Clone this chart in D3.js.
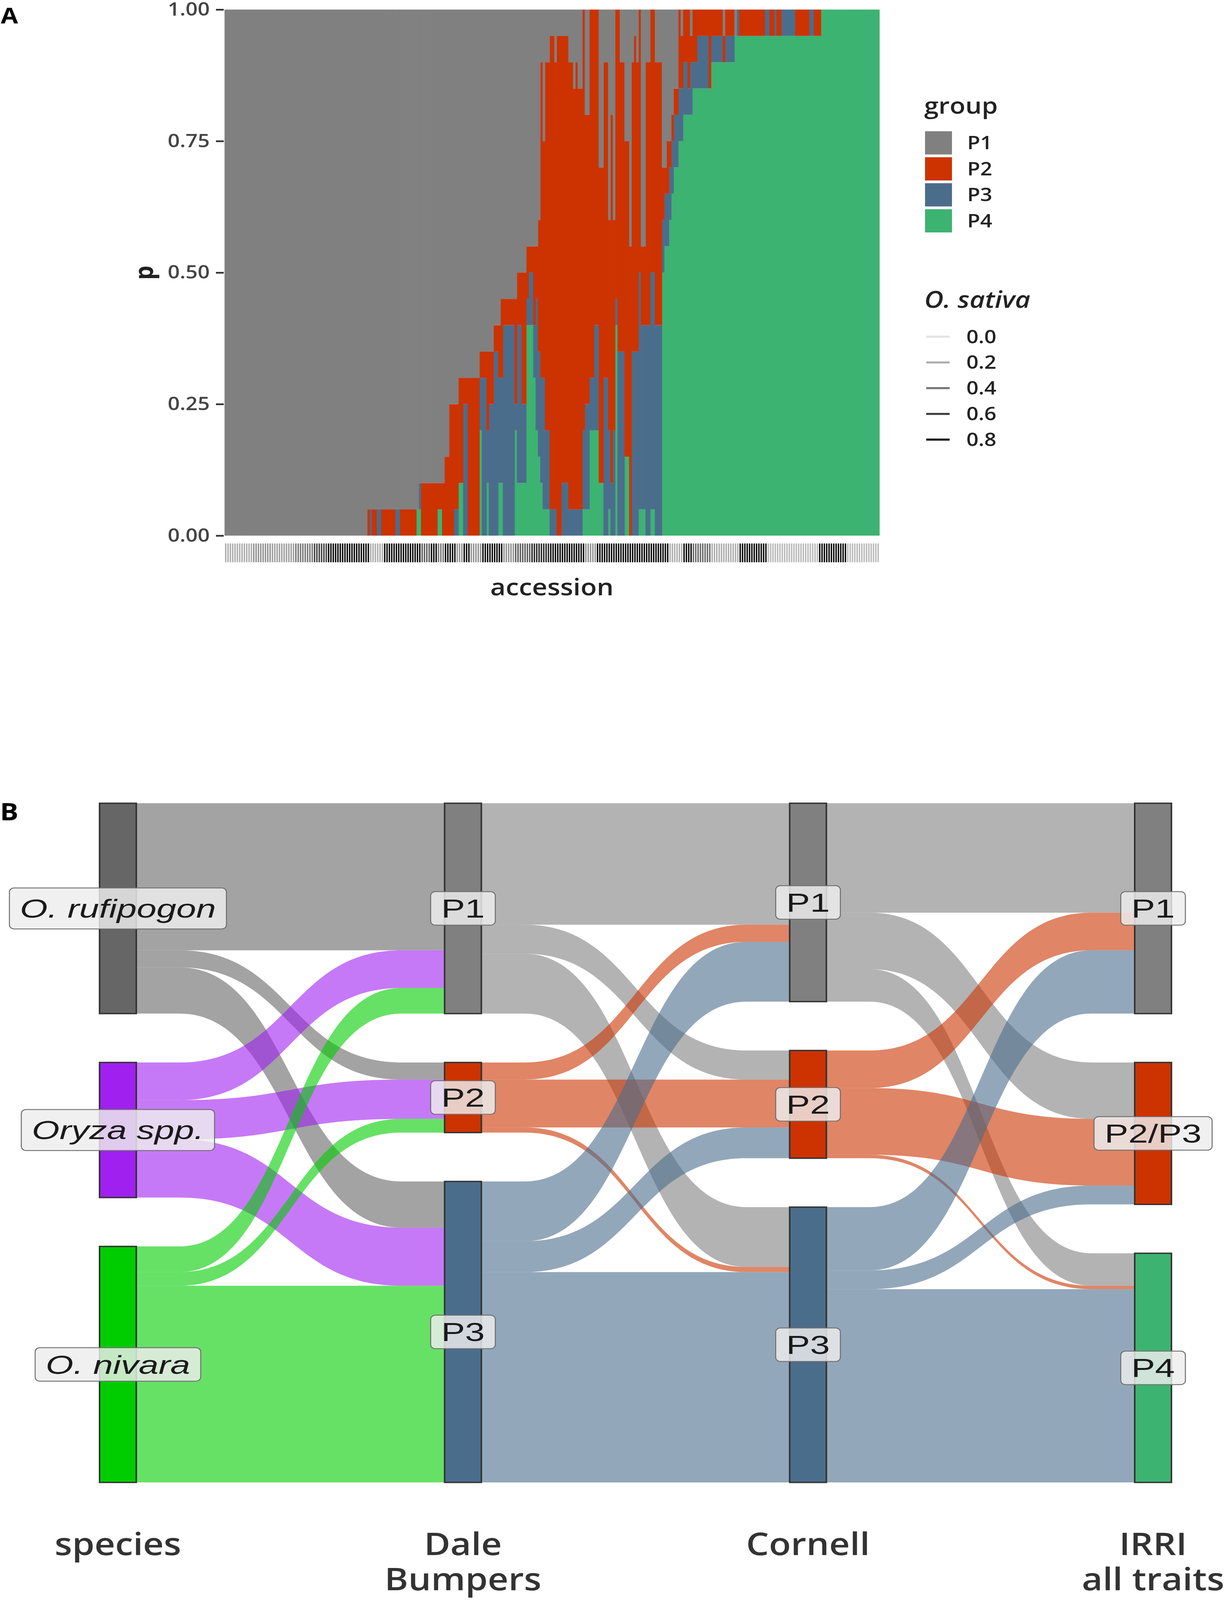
<!DOCTYPE html>
<html>
<head>
<meta charset="utf-8">
<script src="https://cdn.jsdelivr.net/npm/d3@7"></script>
<style>
  html, body { margin: 0; padding: 0; background: #fff; overflow: hidden; }
  svg { display: block; }
</style>
</head>
<body>
<div id="chart"></div>
<script>
// ---------- panel A data ----------
var groups = ['P1', 'P2', 'P3', 'P4'];
var group_colors = ['#808080', '#cc3300', '#4b6d8c', '#3cb371'];
var y_ticks = [0, 0.25, 0.5, 0.75, 1];

// accessions, as runs: [count, P1, P2, P3, P4] in twentieths
var accession_runs = [
  [61, 20, 0, 0, 0],
  [1, 19, 1, 0, 0], [1, 19, 0, 1, 0], [2, 19, 1, 0, 0], [2, 19, 0, 1, 0], [6, 19, 1, 0, 0],
  [2, 19, 0, 1, 0], [7, 19, 1, 0, 0], [1, 19, 0, 0, 1],
  [1, 18, 0, 1, 1], [7, 18, 2, 0, 0], [2, 18, 1, 0, 1], [1, 18, 2, 0, 0],
  [2, 17, 3, 0, 0],
  [2, 15, 5, 0, 0], [2, 15, 4, 1, 0],
  [2, 14, 4, 0, 2], [2, 14, 1, 5, 0], [5, 14, 6, 0, 0],
  [1, 13, 1, 2, 4], [2, 13, 1, 6, 0], [1, 13, 3, 2, 2], [2, 13, 2, 5, 0],
  [2, 12, 1, 7, 0], [1, 12, 2, 4, 2],
  [1, 11, 3, 4, 2], [5, 11, 1, 8, 0], [1, 11, 4, 1, 4],
  [2, 10, 2, 6, 2], [2, 10, 5, 3, 2],
  [1, 9, 2, 1, 8], [2, 9, 1, 2, 8], [1, 9, 3, 2, 6], [1, 9, 2, 5, 4],
  [1, 8, 5, 4, 3],
  [1, 2, 12, 4, 2], [1, 5, 9, 5, 1], [2, 2, 14, 3, 1],
  [2, 1, 18, 1, 0], [1, 2, 17, 1, 0], [2, 1, 19, 0, 0], [3, 1, 17, 2, 0],
  [2, 2, 17, 1, 0], [1, 3, 16, 1, 0], [1, 2, 17, 1, 0], [2, 3, 16, 1, 0],
  [1, 0, 16, 3, 1], [2, 4, 11, 4, 1], [2, 0, 14, 2, 4], [2, 0, 12, 4, 4],
  [2, 6, 12, 0, 2], [2, 2, 12, 6, 0], [1, 8, 8, 3, 1], [1, 4, 14, 2, 0], [1, 8, 8, 4, 0],
  [1, 0, 11, 1, 8], [1, 0, 13, 7, 0], [2, 2, 11, 7, 0], [2, 5, 12, 0, 3],
  [1, 9, 11, 0, 0], [1, 2, 11, 7, 0], [1, 1, 12, 7, 0], [1, 2, 11, 7, 0], [1, 0, 10, 9, 1],
  [2, 9, 3, 7, 1], [2, 2, 10, 8, 0], [2, 0, 10, 9, 1], [3, 2, 10, 8, 0],
  [1, 6, 2, 2, 10], [1, 6, 1, 2, 11], [1, 5, 2, 2, 11], [1, 5, 1, 2, 12], [1, 4, 1, 2, 13],
  [2, 3, 1, 2, 14], [1, 0, 3, 2, 15], [1, 1, 2, 2, 15], [2, 0, 2, 2, 16], [1, 0, 3, 1, 16],
  [1, 1, 1, 2, 16],
  [2, 0, 2, 1, 17], [2, 0, 1, 2, 17], [3, 0, 1, 2, 17], [1, 0, 3, 0, 17],
  [5, 0, 1, 1, 18], [1, 1, 1, 0, 18], [4, 0, 1, 1, 18],
  [1, 1, 0, 0, 19], [1, 0, 0, 1, 19], [11, 0, 1, 0, 19], [2, 0, 0, 1, 19], [2, 0, 1, 0, 19],
  [1, 0, 0, 1, 19], [2, 0, 1, 0, 19], [6, 0, 0, 1, 19], [6, 0, 1, 0, 19], [2, 0, 0, 1, 19],
  [3, 0, 1, 0, 19],
  [25, 0, 0, 0, 20]
];

// O. sativa share per accession, as runs: [count, value]
var sativa_runs = [
  [12, 0.2], [8, 0.3], [10, 0.25], [8, 0.4], [6, 0.6], [18, 0.8], [6, 0.2], [16, 0.8],
  [4, 0.5], [3, 0.8], [3, 0.4], [5, 0.8], [3, 0.3], [3, 0.8], [5, 0.3], [9, 0.8],
  [5, 0.3], [7, 0.5], [8, 0.7], [15, 0.8], [5, 0.3], [31, 0.8], [6, 0.2], [4, 0.8],
  [8, 0.45], [12, 0.2], [12, 0.8], [22, 0.15], [12, 0.8], [14, 0.15]
];
var sativa_legend = [0, 0.2, 0.4, 0.6, 0.8];

// ---------- panel B data ----------
var axes = ['species', 'Dale Bumpers', 'Cornell', 'IRRI all traits'];
var axis_titles = [['species'], ['Dale', 'Bumpers'], ['Cornell'], ['IRRI', 'all traits']];
var strata = [
  ['O. rufipogon', 'Oryza spp.', 'O. nivara'],
  ['P1', 'P2', 'P3'],
  ['P1', 'P2', 'P3'],
  ['P1', 'P2/P3', 'P4']
];
var strata_colors = [
  ['#666666', '#a020f0', '#00cd00'],
  ['#808080', '#cc3300', '#4b6d8c'],
  ['#808080', '#cc3300', '#4b6d8c'],
  ['#808080', '#cc3300', '#3cb371']
];
var species_flows = [
  ['O. rufipogon', 'P1', 86], ['O. rufipogon', 'P2', 10], ['O. rufipogon', 'P3', 27],
  ['Oryza spp.', 'P1', 22], ['Oryza spp.', 'P2', 23], ['Oryza spp.', 'P3', 34],
  ['O. nivara', 'P1', 15], ['O. nivara', 'P2', 8], ['O. nivara', 'P3', 115]
];
var dale_flows = [
  ['P1', 'P1', 71], ['P1', 'P2', 17], ['P1', 'P3', 35],
  ['P2', 'P1', 10], ['P2', 'P2', 28], ['P2', 'P3', 3],
  ['P3', 'P1', 35], ['P3', 'P2', 18], ['P3', 'P3', 123]
];
var cornell_flows = [
  ['P1', 'P1', 64], ['P1', 'P2/P3', 33], ['P1', 'P4', 19],
  ['P2', 'P1', 22], ['P2', 'P2/P3', 39], ['P2', 'P4', 2],
  ['P3', 'P1', 37], ['P3', 'P2/P3', 11], ['P3', 'P4', 113]
];

var chart_width = 3150;
var chart_height = 4681;

// drawn in 3150x4681 units, fitted to whatever window we get
var svg = d3.select('#chart')
  .append('svg')
  .attr('width', window.innerWidth || chart_width)
  .attr('height', window.innerHeight || chart_height)
  .attr('viewBox', '0 0 ' + chart_width + ' ' + chart_height)
  .attr('preserveAspectRatio', 'none');

svg.append('rect').attr('width', chart_width).attr('height', chart_height).attr('fill', '#fff');

// ================= panel A =================
var accessions = [];
accession_runs.forEach(function(r) {
  for (var k = 0; k < r[0]; k++) {
    var s = r[1] + r[2] + r[3] + r[4];
    accessions.push({ id: accessions.length, P1: r[1] / s, P2: r[2] / s, P3: r[3] / s, P4: r[4] / s });
  }
});
var sativa = [];
sativa_runs.forEach(function(r) {
  for (var k = 0; k < r[0]; k++) sativa.push(r[1]);
});
accessions.forEach(function(d, i) { d.sativa = sativa[i] || 0; });

var x_scale = d3.scaleBand()
  .domain(accessions.map(function(d) { return d.id; }))
  .range([575, 2252])
  .padding(0);

var y_scale = d3.scaleLinear()
  .domain([0, 1])
  .range([1567, 28]);

var color = d3.scaleOrdinal().domain(groups).range(group_colors);

var stack = d3.stack().keys(['P4', 'P3', 'P2', 'P1']);
var series = stack(accessions);

svg.append('g')
  .selectAll('g')
  .data(series)
  .enter()
  .append('g')
  .attr('fill', function(s) { return color(s.key); })
  .selectAll('rect')
  .data(function(s) { return s; })
  .enter()
  .append('rect')
  .attr('x', function(d) { return x_scale(d.data.id); })
  .attr('width', x_scale.bandwidth() + 0.7)
  .attr('y', function(d) { return y_scale(d[1]); })
  .attr('height', function(d) { return Math.max(0, y_scale(d[0]) - y_scale(d[1])); });

// y axis
var y_axis = d3.axisLeft(y_scale)
  .tickValues(y_ticks)
  .tickFormat(d3.format('.2f'))
  .tickSize(20)
  .tickPadding(16);

var y_g = svg.append('g')
  .attr('transform', 'translate(573,0)')
  .call(y_axis);
y_g.select('.domain').remove();
y_g.selectAll('.tick line').attr('stroke', '#333').attr('stroke-width', 5);
y_g.selectAll('.tick text')
  .attr('fill', '#444')
  .style('font-family', '"Open Sans", sans-serif')
  .style('font-weight', 600)
  .style('font-size', '54px');

// sativa strip
var sativa_color = d3.scaleLinear().domain([0, 0.8]).range(['#e3e3e3', '#0a0a0a']);
svg.append('g')
  .selectAll('rect')
  .data(accessions)
  .enter()
  .append('rect')
  .attr('x', function(d) { return x_scale(d.id) + x_scale.bandwidth() * 0.2; })
  .attr('width', x_scale.bandwidth() * 0.6)
  .attr('y', 1590)
  .attr('height', 55)
  .attr('fill', function(d) { return sativa_color(d.sativa); });

svg.append('text')
  .attr('x', (575 + 2252) / 2)
  .attr('y', 1742)
  .attr('text-anchor', 'middle')
  .style('font-family', '"Open Sans", sans-serif')
  .style('font-weight', 600)
  .style('font-size', '68px')
  .attr('fill', '#222')
  .text('accession');

svg.append('text')
  .attr('transform', 'translate(392,798) rotate(-90)')
  .attr('text-anchor', 'middle')
  .style('font-family', '"Open Sans", sans-serif')
  .style('font-weight', 700)
  .style('font-size', '66px')
  .attr('fill', '#222')
  .text('p');

svg.append('text')
  .attr('x', 2).attr('y', 68)
  .style('font-family', '"Open Sans", sans-serif')
  .style('font-weight', 700)
  .style('font-size', '64px')
  .text('A');

// legends
var legend_font = '"Open Sans", sans-serif';
svg.append('text')
  .attr('x', 2367).attr('y', 332)
  .style('font-family', legend_font).style('font-weight', 600).style('font-size', '66px')
  .attr('fill', '#222')
  .text('group');

var leg = svg.append('g')
  .selectAll('g')
  .data(groups)
  .enter()
  .append('g')
  .attr('transform', function(d, i) { return 'translate(2369,' + (384 + i * 76) + ')'; });
leg.append('rect')
  .attr('width', 69).attr('height', 68)
  .attr('fill', function(d) { return color(d); });
leg.append('text')
  .attr('x', 108).attr('y', 53)
  .style('font-family', legend_font).style('font-weight', 600).style('font-size', '54px')
  .attr('fill', '#222')
  .text(function(d) { return d; });

svg.append('text')
  .attr('x', 2367).attr('y', 900)
  .style('font-family', legend_font).style('font-weight', 600).style('font-style', 'italic')
  .style('font-size', '68px')
  .attr('fill', '#222')
  .text('O. sativa');

var leg2 = svg.append('g')
  .selectAll('g')
  .data(sativa_legend)
  .enter()
  .append('g')
  .attr('transform', function(d, i) { return 'translate(2372,' + (985 + i * 75.3) + ')'; });
leg2.append('line')
  .attr('x1', 0).attr('x2', 60)
  .attr('stroke', function(d) { return sativa_color(d); })
  .attr('stroke-width', 6);
leg2.append('text')
  .attr('x', 103).attr('y', 19)
  .style('font-family', legend_font).style('font-weight', 600).style('font-size', '54px')
  .attr('fill', '#222')
  .text(function(d) { return d.toFixed(1); });

// ================= panel B =================
var node_w = 94;
var y_top = 2350;
var y_bottom = 4337;
var gap = 143;

var axis_x = d3.scalePoint().domain(axes).range([302, 2953]);

var flow_sets = [species_flows, dale_flows, cornell_flows];

// stratum sizes
var sizes = strata.map(function(names, a) {
  return names.map(function(n) {
    if (a === 0) {
      return d3.sum(species_flows.filter(function(f) { return f[0] === n; }), function(f) { return f[2]; });
    }
    return d3.sum(flow_sets[a - 1].filter(function(f) { return f[1] === n; }), function(f) { return f[2]; });
  });
});
var total = d3.sum(sizes[0]);
var unit = d3.scaleLinear().domain([0, total]).range([0, y_bottom - y_top - 2 * gap]);

var nodes = strata.map(function(names, a) {
  var y = y_top;
  return names.map(function(n, i) {
    var h = unit(sizes[a][i]);
    var node = { axis: a, name: n, color: strata_colors[a][i], x: axis_x(axes[a]), y0: y, y1: y + h, out: y, inn: y };
    y += h + gap;
    return node;
  });
});

function find(a, name) {
  return nodes[a].filter(function(n) { return n.name === name; })[0];
}

// flat run near each stratum, then an S-curve
function ribbon(x0, x1, s0, s1, t0, t1) {
  var flat = (x1 - x0) * 0.14;
  var a = x0 + flat, b = x1 - flat, xm = (a + b) / 2;
  return 'M' + x0 + ',' + s0 + 'L' + a + ',' + s0 +
    'C' + xm + ',' + s0 + ' ' + xm + ',' + t0 + ' ' + b + ',' + t0 +
    'L' + x1 + ',' + t0 + 'L' + x1 + ',' + t1 + 'L' + b + ',' + t1 +
    'C' + xm + ',' + t1 + ' ' + xm + ',' + s1 + ' ' + a + ',' + s1 +
    'L' + x0 + ',' + s1 + 'Z';
}

var ribbons = [];
flow_sets.forEach(function(set, a) {
  // source side: ordered by target, target side: ordered by source
  var src_sorted = set.slice().sort(function(p, q) {
    return strata[a].indexOf(p[0]) - strata[a].indexOf(q[0]) ||
      strata[a + 1].indexOf(p[1]) - strata[a + 1].indexOf(q[1]);
  });
  src_sorted.forEach(function(f) {
    var s = find(a, f[0]);
    var h = unit(f[2]);
    f.s0 = s.out; f.s1 = s.out + h; s.out += h;
  });
  var tgt_sorted = set.slice().sort(function(p, q) {
    return strata[a + 1].indexOf(p[1]) - strata[a + 1].indexOf(q[1]) ||
      strata[a].indexOf(p[0]) - strata[a].indexOf(q[0]);
  });
  tgt_sorted.forEach(function(f) {
    var t = find(a + 1, f[1]);
    var h = unit(f[2]);
    f.t0 = t.inn; f.t1 = t.inn + h; t.inn += h;
  });
  set.forEach(function(f) {
    var s = find(a, f[0]);
    ribbons.push({
      d: ribbon(s.x + node_w / 2, axis_x(axes[a + 1]) - node_w / 2, f.s0, f.s1, f.t0, f.t1),
      color: s.color
    });
  });
});

svg.append('g')
  .selectAll('path')
  .data(ribbons)
  .enter()
  .append('path')
  .attr('d', function(d) { return d.d; })
  .attr('fill', function(d) { return d.color; })
  .attr('fill-opacity', 0.6);

var all_nodes = d3.merge(nodes);

svg.append('g')
  .selectAll('rect')
  .data(all_nodes)
  .enter()
  .append('rect')
  .attr('x', function(d) { return d.x - node_w / 2; })
  .attr('y', function(d) { return d.y0; })
  .attr('width', node_w)
  .attr('height', function(d) { return d.y1 - d.y0; })
  .attr('fill', function(d) { return d.color; })
  .attr('stroke', '#333')
  .attr('stroke-width', 4);

// stratum labels
var labels = svg.append('g')
  .selectAll('g')
  .data(all_nodes)
  .enter()
  .append('g')
  .attr('transform', function(d) { return 'translate(' + d.x + ',' + ((d.y0 + d.y1) / 2) + ')'; });

labels.append('rect').attr('class', 'box');
labels.append('text')
  .attr('transform', 'scale(1.2,1)')
  .attr('text-anchor', 'middle')
  .attr('y', 27)
  .style('font-family', '"Liberation Sans", Arial, sans-serif')
  .style('font-size', '76px')
  .style('font-style', function(d) { return d.axis === 0 ? 'italic' : 'normal'; })
  .attr('fill', '#1a1a1a')
  .text(function(d) { return d.name; });

labels.each(function(d) {
  var g = d3.select(this);
  var bb = g.select('text').node().getBBox();
  var w = bb.width * 1.2 + 54;
  var h = /[gjpqy]/.test(d.name) ? 120 : 98;
  g.select('.box')
    .attr('x', -w / 2).attr('y', -h / 2)
    .attr('width', w).attr('height', h)
    .attr('rx', 12)
    .attr('fill', '#ededed')
    .attr('fill-opacity', 0.83)
    .attr('stroke', '#6e6e6e')
    .attr('stroke-width', 2.5);
});

// axis titles
var titles = svg.append('g')
  .selectAll('text')
  .data(axes)
  .enter()
  .append('text')
  .attr('text-anchor', 'middle')
  .attr('x', function(d) { return axis_x(d); })
  .attr('y', 4550)
  .style('font-family', '"Open Sans", sans-serif')
  .style('font-weight', 600)
  .style('font-size', '92px')
  .attr('fill', '#333');
titles.selectAll('tspan')
  .data(function(d, i) { return axis_titles[i]; })
  .enter()
  .append('tspan')
  .attr('x', function() { return axis_x(d3.select(this.parentNode).datum()); })
  .attr('dy', function(d, i) { return i === 0 ? 0 : 102; })
  .text(function(d) { return d; });

svg.append('text')
  .attr('x', 0).attr('y', 2400)
  .style('font-family', '"Open Sans", sans-serif')
  .style('font-weight', 700)
  .style('font-size', '70px')
  .text('B');
</script>
</body>
</html>
